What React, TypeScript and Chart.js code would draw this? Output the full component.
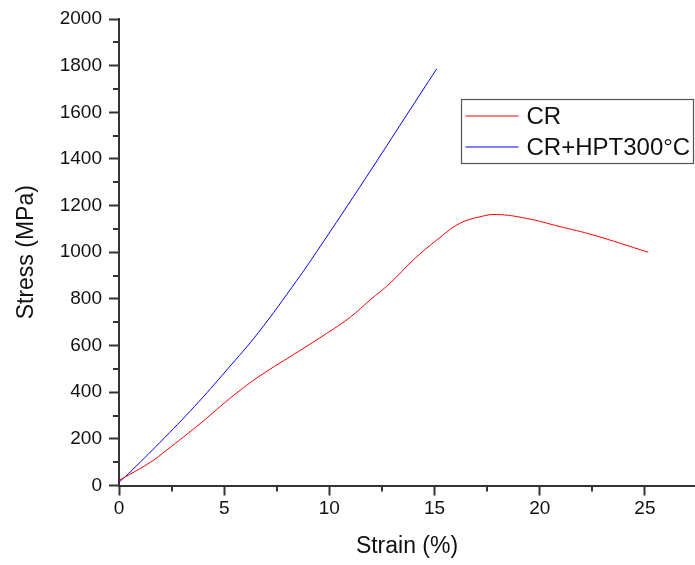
import React, { useEffect, useRef } from "react";
import { Chart, registerables } from "chart.js";

Chart.register(...registerables);

const crStrain = [0, 0.44, 1.5, 2.27, 3.85, 5.43, 6.7, 8.52, 9.87, 11.0, 11.93, 12.88, 13.99, 15.1, 16.2, 17.16, 17.95, 19.38, 20.96, 22.54, 25.16];
const crStress = [22, 44, 100, 152, 265, 385, 470, 574, 652, 722, 795, 867, 967, 1052, 1124, 1152, 1162, 1145, 1110, 1074, 1000];

const hptStrain = [0, 0.44, 1.95, 3.6, 5.12, 6.62, 8.46, 9.41, 11.77, 13.67, 15.1];
const hptStress = [14, 50, 185, 340, 495, 655, 880, 1004, 1324, 1588, 1786];

const seriesLabels = ["CR", "CR+HPT300°C"];
const seriesColors = ["#ff0000", "#0000ff"];

const xTicks = [0, 5, 10, 15, 20, 25];
const yTicks = [0, 200, 400, 600, 800, 1000, 1200, 1400, 1600, 1800, 2000];

const FONT = "'Liberation Sans', Arial, sans-serif";
const AXIS_COLOR = "#333333";

const minorTicks = {
  id: "minorTicks",
  afterDraw(chart: any) {
    const ctx = chart.ctx;
    const xs = chart.scales.x;
    const ys = chart.scales.y;
    const area = chart.chartArea;
    ctx.save();
    ctx.strokeStyle = AXIS_COLOR;
    ctx.lineWidth = 2;
    for (let i = 0; i < xTicks.length; i++) {
      const v = xTicks[i] + 2.5;
      if (v >= xs.max) continue;
      const px = Math.round(xs.getPixelForValue(v));
      ctx.beginPath();
      ctx.moveTo(px, area.bottom);
      ctx.lineTo(px, area.bottom + 6);
      ctx.stroke();
    }
    for (let i = 0; i < yTicks.length - 1; i++) {
      const v = yTicks[i] + 100;
      const py = Math.round(ys.getPixelForValue(v));
      ctx.beginPath();
      ctx.moveTo(area.left, py);
      ctx.lineTo(area.left - 6, py);
      ctx.stroke();
    }
    ctx.restore();
  },
};

const boxLegend = {
  id: "boxLegend",
  afterDraw(chart: any) {
    const ctx = chart.ctx;
    const area = chart.chartArea;
    const right = area.right - 1.5;
    const left = right - 232;
    const top = area.top + 80.5;
    const h = 64;
    ctx.save();
    ctx.strokeStyle = "#555555";
    ctx.lineWidth = 1.2;
    ctx.strokeRect(left, top, right - left, h);
    ctx.font = `24px ${FONT}`;
    ctx.textBaseline = "middle";
    ctx.textAlign = "left";
    chart.data.datasets.forEach((ds: any, i: number) => {
      const y = top + 16.5 + i * 31;
      ctx.strokeStyle = ds.borderColor;
      ctx.lineWidth = 1;
      ctx.beginPath();
      ctx.moveTo(left + 4, y);
      ctx.lineTo(left + 57, y);
      ctx.stroke();
      ctx.fillStyle = "#111111";
      ctx.fillText(ds.label, left + 65, y + 1);
    });
    ctx.restore();
  },
};

export default function App() {
  const ref = useRef<HTMLCanvasElement>(null);
  useEffect(() => {
    document.body.style.margin = "0";
    const canvas = ref.current!;
    const mk = (xs: number[], ys: number[]) => xs.map((x, i) => ({ x, y: ys[i] }));
    const chart = new Chart(canvas, {
      type: "line",
      data: {
        datasets: [
          {
            label: seriesLabels[0],
            data: mk(crStrain, crStress),
            borderColor: seriesColors[0],
            borderWidth: 1,
            pointRadius: 0,
            tension: 0.4,
            fill: false,
          },
          {
            label: seriesLabels[1],
            data: mk(hptStrain, hptStress),
            borderColor: seriesColors[1],
            borderWidth: 1,
            pointRadius: 0,
            tension: 0.4,
            fill: false,
          },
        ],
      },
      options: {
        responsive: false,
        animation: false,
        layout: { padding: { top: 19, left: 0, right: 0, bottom: 0 } },
        plugins: { legend: { display: false }, tooltip: { enabled: false } },
        scales: {
          x: {
            type: "linear",
            min: 0,
            max: 27.38,
            afterFit: (s: any) => { s.height = 79.5; },
            afterBuildTicks: (s: any) => { s.ticks = xTicks.map((v) => ({ value: v })); },
            ticks: { includeBounds: false, color: "#111111", font: { family: FONT, size: 19 }, padding: 2, maxRotation: 0, callback: (v: any) => String(v) },
            grid: { drawOnChartArea: false, drawTicks: true, tickLength: 10, tickColor: AXIS_COLOR, tickWidth: 2 },
            border: { display: true, color: AXIS_COLOR, width: 2 },
            title: { display: true, text: "Strain (%)", color: "#111111", font: { family: FONT, size: 23 }, padding: { top: 0, bottom: 5 } },
          },
          y: {
            type: "linear",
            min: 0,
            max: 2000,
            afterFit: (s: any) => { s.width = 119; },
            afterBuildTicks: (s: any) => { s.ticks = yTicks.map((v) => ({ value: v })); },
            ticks: { color: "#111111", font: { family: FONT, size: 19 }, padding: 7, callback: (v: any) => String(v) },
            grid: { drawOnChartArea: false, drawTicks: true, tickLength: 10, tickColor: AXIS_COLOR, tickWidth: 2 },
            border: { display: true, color: AXIS_COLOR, width: 2 },
            title: { display: true, text: "Stress (MPa)", color: "#111111", font: { family: FONT, size: 23 }, padding: { top: 13, bottom: 0 } },
          },
        },
      },
      plugins: [minorTicks, boxLegend],
    } as any);
    return () => chart.destroy();
  }, []);
  return (
    <div style={{ width: 695, height: 565 }}>
      <canvas ref={ref} width={695} height={565} />
    </div>
  );
}
